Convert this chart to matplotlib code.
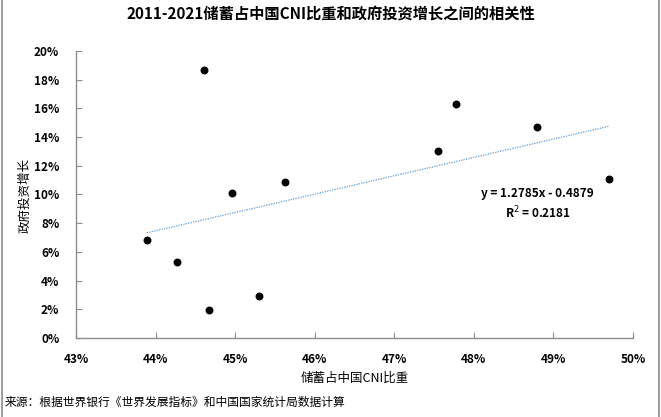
import numpy as np
import matplotlib
matplotlib.use('Agg')
import matplotlib.pyplot as plt
from matplotlib.lines import Line2D
from matplotlib.ticker import PercentFormatter

plt.rcParams['font.family'] = ['Noto Sans CJK SC', 'DejaVu Sans']

# savings share of GNI (%) vs government investment growth (%)
savings_share = [43.89, 44.27, 44.61, 44.67, 44.96, 45.30, 45.63, 47.55, 47.77, 48.79, 49.70]
gov_invest_growth = [6.8, 5.3, 18.7, 1.95, 10.1, 2.9, 10.9, 13.0, 16.3, 14.7, 11.1]

title = '2011-2021储蓄占中国CNI比重和政府投资增长之间的相关性'
x_label = '储蓄占中国CNI比重'
y_label = '政府投资增长'
source = '来源：根据世界银行《世界发展指标》和中国国家统计局数据计算'
fit_text = 'y = 1.2785x - 0.4879\nR$^2$ = 0.2181'

fig = plt.figure(figsize=(6.61, 4.17), dpi=100)
ax = fig.add_axes([76 / 661, 1 - 338 / 417, (633 - 76) / 661, (338 - 51) / 417])

x = np.array(savings_share)
y = np.array(gov_invest_growth)
ax.scatter(x, y, s=22, color='black', zorder=3)

# linear trend line
k, b = np.polyfit(x, y, 1)
xs = np.array([x.min(), x.max()])
ax.plot(xs, k * xs + b, linestyle=(0, (1, 1)), color='#5b9bd5', linewidth=0.9)

ax.set_xlim(43, 50)
ax.set_ylim(0, 20)
ax.set_xticks(range(43, 51))
ax.set_yticks(range(0, 21, 2))
ax.xaxis.set_major_formatter(PercentFormatter(decimals=0))
ax.yaxis.set_major_formatter(PercentFormatter(decimals=0))

for s in ['top', 'right']:
    ax.spines[s].set_visible(False)
for s in ['left', 'bottom']:
    ax.spines[s].set_color('#8c8c8c')
    ax.spines[s].set_linewidth(1.0)
ax.tick_params(axis='both', direction='in', length=4, color='#8c8c8c', labelsize=8.5)
ax.tick_params(axis='x', pad=11)
ax.tick_params(axis='y', pad=12)
for lab in ax.get_xticklabels() + ax.get_yticklabels():
    lab.set_fontweight('bold')

ax.text(48.8, 10.5, fit_text, ha='center', va='top', fontsize=8.5, fontweight='bold',
        linespacing=1.35)

fig.text(0.5, 1 - 14 / 417, title, ha='center', va='center', fontsize=11, fontweight='bold')
fig.text(355 / 661, 1 - 378 / 417, x_label, ha='center', va='center', fontsize=9)
fig.text(25 / 661, 1 - 196 / 417, y_label, ha='center', va='center', fontsize=9, rotation=90)
fig.text(5 / 661, 1 - 402 / 417, source, ha='left', va='center', fontsize=8.5)

# side borders only (left and right edges of the frame)
for xe in (1.5 / 661, 659 / 661):
    fig.lines.append(Line2D([xe, xe], [0, 1], transform=fig.transFigure,
                            color='#8c8c8c', linewidth=1.2))

fig.savefig('out.png', dpi=100)
